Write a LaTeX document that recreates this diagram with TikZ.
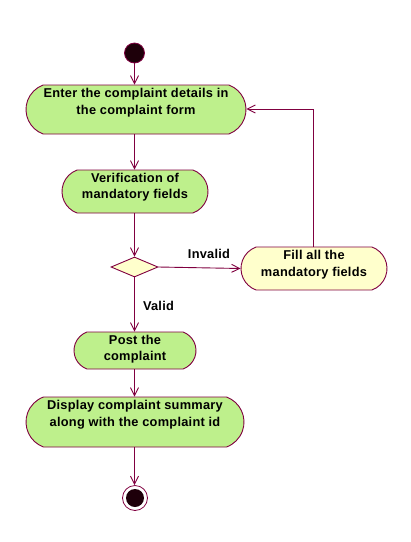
\documentclass[tikz,border=0pt]{standalone}
\usepackage{fontspec}
\setmainfont{Liberation Sans}[LetterSpace=2]
\usetikzlibrary{shapes.misc,shapes.geometric,arrows.meta}
\definecolor{umlline}{RGB}{128,0,64}
\definecolor{umlgreen}{RGB}{190,240,140}
\definecolor{umlyellow}{RGB}{255,255,204}
\definecolor{umldot}{RGB}{30,0,10}
\tikzset{
  actbox/.style={rounded rectangle, rounded rectangle arc length=140, draw=umlline, fill=umlgreen, line width=0.9pt, inner sep=0pt},
  fillbox/.style={actbox, fill=umlyellow},
  acttext/.style={align=center, inner sep=0pt, font=\bfseries\fontsize{12.8}{16.5}\selectfont},
  lbl/.style={inner sep=0pt, font=\bfseries\fontsize{12.8}{14}\selectfont},
  flow/.style={draw=umlline, line width=0.9pt, -{Straight Barb[length=8pt,width=8pt]}},
  decision/.style={diamond, aspect=2.35, draw=umlline, fill=umlyellow, line width=0.9pt, inner sep=0pt, minimum width=47pt, minimum height=20pt},
}
\begin{document}
\begin{tikzpicture}[x=1pt,y=-1pt]
\useasboundingbox (0,0) rectangle (411,542);
\fill[white] (0,0) rectangle (411,542);
\node[circle, fill=umldot, draw=umlline, line width=0.8pt, minimum size=20pt, inner sep=0pt] (start) at (134.5,53) {};
\node[actbox, minimum width=220pt, minimum height=49pt] (b1) at (136,109.5) {};
\node[acttext] (t1) at (136,102.5) {Enter the complaint details in\\the complaint form};
\node[actbox, minimum width=146pt, minimum height=43pt] (b2) at (135,191.5) {};
\node[acttext] (t2) at (135,187) {Verification of\\mandatory fields};
\node[decision] (d) at (134.5,267) {};
\node[fillbox, minimum width=146pt, minimum height=43pt] (f) at (314,268.5) {};
\node[acttext] (tf) at (314,264.5) {Fill all the\\mandatory fields};
\node[actbox, minimum width=122pt, minimum height=37pt] (b3) at (135,350.5) {};
\node[acttext] (t3) at (135,349) {Post the\\complaint};
\node[actbox, minimum width=218pt, minimum height=50pt] (b4) at (135,422) {};
\node[acttext] (t4) at (135,414.5) {Display complaint summary\\along with the complaint id};
\node[circle, draw=umlline, fill=white, line width=0.8pt, minimum size=25pt, inner sep=0pt] (end) at (135,498) {};
\node[circle, fill=umldot, minimum size=18pt, inner sep=0pt] (endin) at (135,498) {};
\node[lbl] (linv) at (209,254) {Invalid};
\node[lbl] (lval) at (158.5,306) {Valid};
\coordinate (c1) at (313,109);
\draw[flow] (start) -- (start |- b1.north);
\draw[flow] (b1.south -| d) -- (b2.north -| d);
\draw[flow] (b2.south -| d) -- (d.north);
\draw[flow] (d.south) -- (b3.north -| d);
\draw[flow] (b3.south -| d) -- (b4.north -| d);
\draw[flow] (b4.south -| d) -- (end.north -| d);
\draw[flow] (d.east) -- (f.west);
\draw[flow] (f.north -| c1) -- (c1) -- (b1.east |- c1);
\end{tikzpicture}
\end{document}
